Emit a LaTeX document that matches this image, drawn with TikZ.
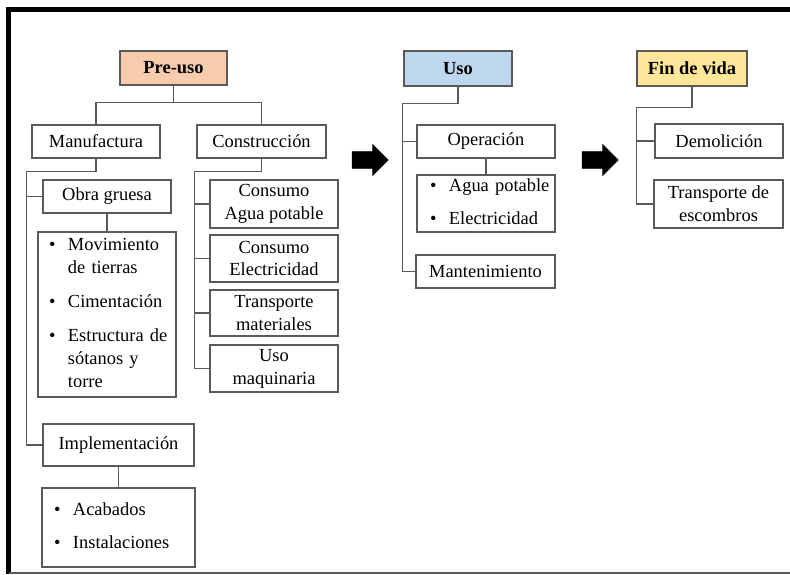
\documentclass[tikz,border=0pt]{standalone}
\usepackage{fontspec}
\setmainfont{Liberation Serif}
\usetikzlibrary{shapes.arrows}

\definecolor{preuso}{HTML}{F8CBAD}
\definecolor{usoc}{HTML}{BDD7EE}
\definecolor{finc}{HTML}{FFE699}
\definecolor{edge}{HTML}{5A5A5A}

\tikzset{
  box/.style={draw=edge, line width=0.8pt, inner sep=0pt, align=center,
    font=\fontsize{10.5}{13}\selectfont},
  stage/.style={box, font=\fontsize{10.5}{13}\selectfont\bfseries},
  listbox/.style={draw=edge, line width=0.8pt, inner ysep=0pt, inner xsep=0.22cm,
    font=\fontsize{10.5}{13}\selectfont},
  link/.style={draw=edge, line width=0.8pt},
  bigarrow/.style={single arrow, fill=black, draw=black, line width=0.4pt,
    minimum height=0.72cm, inner xsep=0pt, inner ysep=0.16cm,
    single arrow head extend=0.14cm}
}

\newenvironment{bullets}{\noindent\begin{tabular}{@{}l@{\hspace{0.25cm}}l@{}}}{\end{tabular}}

\begin{document}
\begin{tikzpicture}[x=0.02cm, y=-0.02cm]
  \useasboundingbox (0,0) rectangle (790,574);
  % frame
  \draw[line width=2.6pt] (8.5,574) -- (8.5,9.5) -- (790,9.5);
  \draw[edge, line width=0.8pt] (8.5,573) -- (790,573);

  % stages
  \node[stage, fill=preuso, minimum width=2.14cm, minimum height=0.68cm] (pre) at (173.5,68) {Pre-uso};
  \node[stage, fill=usoc, minimum width=2.16cm, minimum height=0.70cm] (uso) at (458,68.5) {Uso};
  \node[stage, fill=finc, minimum width=2.20cm, minimum height=0.70cm] (fin) at (692,68.5) {Fin de vida};

  % pre-uso
  \node[box, minimum width=2.56cm, minimum height=0.66cm] (manu) at (96,141.5) {Manufactura};
  \node[box, minimum width=2.58cm, minimum height=0.66cm] (cons) at (261.5,141.5) {Construcción};
  \node[box, minimum width=2.56cm, minimum height=0.66cm] (obra) at (107,196.5) {Obra gruesa};
  \node[listbox, text width=2.32cm, minimum height=3.30cm] (mlist) at (107,314.5)
    {\begin{bullets}
      \textbullet & Movimiento\\
                  & de tierras\\[0.22cm]
      \textbullet & Cimentación\\[0.22cm]
      \textbullet & Estructura de\\
                  & sótanos y\\
                  & torre
    \end{bullets}};
  \node[box, minimum width=3.02cm, minimum height=0.84cm] (impl) at (118.5,445) {Implementación};
  \node[listbox, text width=2.58cm, inner xsep=0.24cm, minimum height=1.58cm] (ilist) at (118.5,527.5)
    {\begin{bullets}
      \textbullet & Acabados\\[0.22cm]
      \textbullet & Instalaciones
    \end{bullets}};
  \node[box, minimum width=2.56cm, minimum height=0.96cm] (agua) at (274,204) {Consumo\\Agua potable};
  \node[box, minimum width=2.56cm, minimum height=0.94cm] (elec) at (274,258.5) {Consumo\\Electricidad};
  \node[box, minimum width=2.56cm, minimum height=0.92cm] (trans) at (274,313) {Transporte\\materiales};
  \node[box, minimum width=2.56cm, minimum height=0.94cm] (maq) at (274,368.5) {Uso\\maquinaria};

  % uso
  \node[box, minimum width=2.76cm, minimum height=0.66cm] (oper) at (486,141.5) {Operación};
  \node[listbox, text width=2.24cm, inner xsep=0.26cm, minimum height=1.14cm] (olist) at (486,203.5)
    {\begin{bullets}
      \textbullet & Agua potable\\[0.22cm]
      \textbullet & Electricidad
    \end{bullets}};
  \node[box, minimum width=2.78cm, minimum height=0.66cm] (mant) at (485.5,271.5) {Mantenimiento};

  % fin de vida
  \node[box, minimum width=2.56cm, minimum height=0.68cm] (demo) at (719,141) {Demolición};
  \node[box, minimum width=2.58cm, minimum height=0.96cm] (esc) at (718.5,204) {Transporte de\\escombros};

  % arrows between stages
  \node[bigarrow] (arr1) at (366,160) {};
  \node[bigarrow] (arr2) at (596,160) {};

  % connectors
  \draw[link] (pre.south) -- ++(0,17) coordinate (prebend) -| (manu.north);
  \draw[link] (prebend) -| (cons.north);

  \draw[link] (manu.south) -- ++(0,13) -| ([xshift=-0.32cm]impl.west) -- (impl.west);
  \draw[link] (obra.west) -- ++(-16,0);
  \draw[link] (obra.south) -- (mlist.north);
  \draw[link] (impl.south) -- (ilist.north);

  \draw[link] (cons.south) -- ++(0,13) -| ([xshift=-0.30cm]maq.west) -- (maq.west);
  \draw[link] (agua.west) -- ++(-15,0);
  \draw[link] (elec.west) -- ++(-15,0);
  \draw[link] (trans.west) -- ++(-15,0);

  \draw[link] (uso.south) -- ++(0,17) -| ([xshift=-0.26cm]mant.west) -- (mant.west);
  \draw[link] (oper.west) -- ++(-14,0);
  \draw[link] (oper.south) -- (olist.north);

  \draw[link] (fin.south) -- ++(0,21) -| ([xshift=-0.34cm]esc.west) -- (esc.west);
  \draw[link] (demo.west) -- ++(-18,0);
\end{tikzpicture}
\end{document}
